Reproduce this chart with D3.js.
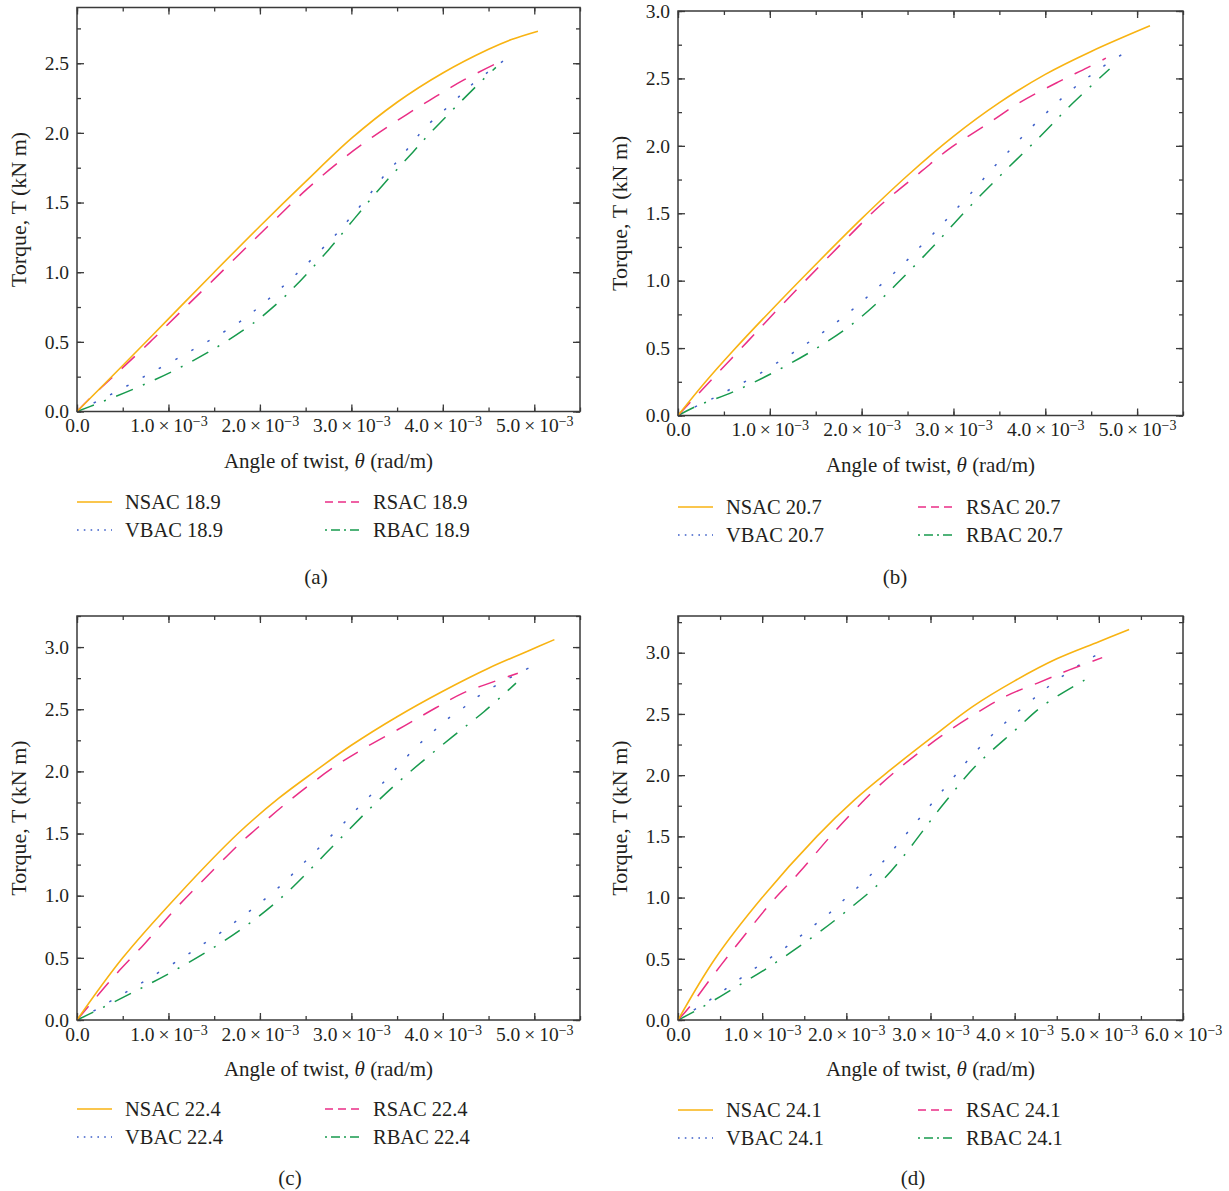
<!DOCTYPE html>
<html>
<head>
<meta charset="utf-8">
<script src="https://cdn.jsdelivr.net/npm/d3@7"></script>
<style>
  html, body { margin: 0; padding: 0; background: #fff; }
  svg { display: block; }
  text { font-family: "Liberation Serif", "DejaVu Serif", serif; fill: #231f20; }
</style>
</head>
<body>
<svg id="chart" width="1229" height="1191"></svg>
<script>
// ---------------- DATA (θ in 10⁻³ rad/m, T in kN m) ----------------
const seriesNames = ["NSAC", "RSAC", "VBAC", "RBAC"];
const strengths = ["18.9", "20.7", "22.4", "24.1"];
const panelLabels = ["(a)", "(b)", "(c)", "(d)"];
const xMax = [5.5, 5.5, 5.5, 6.0];
const yMax = [2.9, 3.0, 3.25, 3.3];
const xMajorTicks = [[0,1,2,3,4,5],[0,1,2,3,4,5],[0,1,2,3,4,5],[0,1,2,3,4,5,6]];
const yMajorTicks = [[0,0.5,1,1.5,2,2.5],[0,0.5,1,1.5,2,2.5,3],[0,0.5,1,1.5,2,2.5,3],[0,0.5,1,1.5,2,2.5,3]];
const xTitle = "Angle of twist, ";
const yTitle = "Torque, T (kN m)";

// (a) 18.9
const nsac189 = [[0,0],[0.5,0.33],[1.0,0.665],[1.5,1.0],[2.0,1.33],[2.5,1.65],[3.0,1.96],[3.5,2.22],[4.0,2.43],[4.5,2.60],[4.75,2.67],[5.04,2.73]];
const rsac189 = [[0,0],[0.15,0.1],[0.46,0.29],[0.8,0.5],[1.14,0.72],[1.5,0.95],[1.9,1.21],[2.2,1.40],[2.52,1.6],[2.9,1.81],[3.23,1.97],[3.6,2.13],[3.92,2.26],[4.23,2.38],[4.56,2.49]];
const vbac189 = [[0,0],[0.23,0.077],[0.42,0.139],[0.62,0.21],[0.83,0.285],[1.13,0.392],[1.35,0.474],[1.57,0.557],[1.79,0.648],[2.0,0.755],[2.21,0.873],[2.5,1.05],[2.83,1.27],[3.0,1.4],[3.19,1.55],[3.33,1.67],[3.52,1.81],[3.67,1.93],[3.81,2.04],[4.13,2.23],[4.27,2.32],[4.5,2.44],[4.69,2.53]];
const rbac189 = [[0,0],[0.21,0.053],[0.64,0.167],[1.08,0.30],[1.53,0.462],[1.87,0.608],[2.0,0.67],[2.29,0.837],[2.75,1.16],[3.04,1.39],[3.35,1.63],[3.67,1.86],[3.85,1.99],[4.13,2.18],[4.42,2.37],[4.58,2.47]];

// (b) 20.7
const nsac207 = [[0,0],[0.3,0.25],[0.6,0.48],[1.0,0.77],[1.5,1.12],[2.0,1.46],[2.5,1.78],[3.0,2.07],[3.5,2.32],[4.0,2.53],[4.5,2.70],[5.14,2.89]];
const rsac207 = [[0,0],[0.145,0.106],[0.435,0.316],[0.754,0.546],[1.02,0.74],[1.37,0.988],[1.87,1.336],[2.19,1.55],[2.65,1.81],[2.95,1.975],[3.41,2.18],[3.72,2.32],[4.13,2.47],[4.46,2.58],[4.66,2.65]];
const vbac207 = [[0,0],[0.236,0.081],[0.428,0.143],[0.616,0.212],[0.84,0.291],[1.116,0.407],[1.33,0.5],[1.543,0.6],[1.75,0.703],[1.964,0.822],[2.19,0.958],[2.41,1.093],[2.62,1.24],[2.82,1.376],[3.0,1.51],[3.22,1.67],[3.41,1.82],[3.63,1.98],[3.81,2.11],[4.02,2.25],[4.16,2.34],[4.35,2.45],[4.51,2.53],[4.70,2.62],[4.94,2.72]];
const rbac207 = [[0,0],[0.2,0.069],[0.616,0.18],[1.087,0.336],[1.533,0.509],[1.913,0.686],[2.246,0.884],[2.38,0.975],[2.76,1.24],[3.15,1.53],[3.57,1.82],[3.96,2.08],[4.29,2.31],[4.70,2.57]];

// (c) 22.4
const nsac224 = [[0,0],[0.5,0.5],[1.1,1.0],[1.76,1.5],[2.2,1.78],[2.6,2.0],[3.0,2.21],[3.5,2.44],[4.0,2.645],[4.5,2.83],[4.97,2.98],[5.22,3.06]];
const rsac224 = [[0,0],[0.117,0.102],[0.409,0.354],[0.737,0.612],[1.066,0.886],[1.412,1.149],[1.777,1.418],[1.949,1.53],[2.29,1.745],[2.80,2.03],[3.15,2.19],[3.59,2.37],[3.92,2.51],[4.22,2.63],[4.55,2.72],[4.82,2.79]];
const vbac224 = [[0,0],[0.234,0.094],[0.42,0.174],[0.628,0.263],[0.836,0.357],[1.157,0.502],[1.376,0.609],[1.595,0.716],[1.807,0.832],[2.03,0.958],[2.245,1.093],[2.46,1.25],[2.68,1.41],[2.90,1.57],[3.09,1.72],[3.31,1.88],[3.51,2.04],[3.70,2.19],[3.88,2.31],[4.05,2.42],[4.24,2.52],[4.36,2.59],[4.65,2.72],[4.99,2.85]];
const rbac224 = [[0,0],[0.19,0.067],[0.628,0.228],[1.077,0.403],[1.522,0.596],[1.912,0.792],[2.288,1.02],[2.80,1.40],[3.23,1.72],[3.6,1.97],[4.09,2.27],[4.45,2.48],[4.80,2.71]];

// (d) 24.1
const nsac241 = [[0,0],[0.44,0.5],[1.0,1.0],[1.65,1.5],[2.1,1.8],[2.5,2.03],[3.0,2.3],[3.5,2.56],[4.0,2.77],[4.5,2.95],[5.0,3.09],[5.36,3.19]];
const rsac241 = [[0,0],[0.139,0.109],[0.43,0.376],[0.737,0.646],[1.116,0.966],[1.434,1.2],[1.853,1.533],[2.19,1.78],[2.32,1.87],[2.67,2.08],[3.13,2.32],[3.53,2.5],[3.91,2.65],[4.30,2.76],[4.65,2.86],[5.04,2.96]];
const vbac241 = [[0,0],[0.239,0.104],[0.438,0.191],[0.649,0.295],[0.876,0.404],[1.108,0.513],[1.335,0.622],[1.562,0.744],[1.777,0.859],[2.0,1.0],[2.239,1.15],[2.458,1.31],[2.65,1.47],[2.86,1.64],[3.26,1.97],[3.48,2.15],[3.72,2.32],[3.94,2.46],[4.27,2.65],[4.49,2.77],[4.84,2.93],[5.11,3.03]];
const rbac241 = [[0,0],[0.207,0.074],[0.665,0.259],[1.104,0.444],[1.58,0.668],[1.98,0.878],[2.47,1.17],[3.15,1.76],[3.53,2.07],[4.01,2.37],[4.34,2.57],[4.89,2.80]];

const panelSeries = [
  [nsac189, rsac189, vbac189, rbac189],
  [nsac207, rsac207, vbac207, rbac207],
  [nsac224, rsac224, vbac224, rbac224],
  [nsac241, rsac241, vbac241, rbac241]
];

// ---------------- LAYOUT & STYLE ----------------
const layout = [
  {l: 77,  r: 580,  t: 7.5, b: 411.5, legY: 502,  legX: [77, 325], capX: 316, capY: 577},
  {l: 678, r: 1183, t: 11,  b: 415.5, legY: 507,  legX: [678, 918], capX: 895, capY: 577},
  {l: 77,  r: 580,  t: 616, b: 1020,  legY: 1109, legX: [77, 325], capX: 290, capY: 1178},
  {l: 678, r: 1183, t: 616, b: 1020,  legY: 1110, legX: [678, 918], capX: 913, capY: 1178}
];
const colors = {NSAC: "#f8b312", RSAC: "#ea2e86", VBAC: "#3d5fc9", RBAC: "#179a4d"};
const plotDash = {NSAC: null, RSAC: "18,13", VBAC: "2.5,16", RBAC: "18,11,2,11"};
const legDash = {NSAC: null, RSAC: "8,5", VBAC: "1.6,5.2", RBAC: "2,4,9,4"};
const legendPos = {NSAC: [0,0], VBAC: [0,1], RSAC: [1,0], RBAC: [1,1]};
const tickFont = 19.5, titleFont = 21, yTitleFont = 22, legendFont = 20.5, capFont = 21;

const svg = d3.select("#chart");
const axisColor = "#3a3a3a";

layout.forEach((L, i) => {
  const g = svg.append("g");
  const x = d3.scaleLinear().domain([0, xMax[i]]).range([L.l, L.r]);
  const y = d3.scaleLinear().domain([0, yMax[i]]).range([L.b, L.t]);

  const xMinor = d3.range(0, xMax[i] + 1e-9, 0.5);
  const yMinor = d3.range(0, yMax[i] + 1e-9, 0.25);

  const addAxis = (axis, transform) => {
    const a = g.append("g").attr("transform", transform).call(axis);
    a.select(".domain").remove();
    a.selectAll(".tick line").attr("stroke", axisColor).attr("stroke-width", 1.3);
    return a;
  };
  addAxis(d3.axisBottom(x).tickValues(xMinor).tickSize(-4).tickFormat(""), `translate(0,${L.b})`);
  addAxis(d3.axisTop(x).tickValues(xMinor).tickSize(-4).tickFormat(""), `translate(0,${L.t})`);
  addAxis(d3.axisLeft(y).tickValues(yMinor).tickSize(-4).tickFormat(""), `translate(${L.l},0)`);
  addAxis(d3.axisRight(y).tickValues(yMinor).tickSize(-4).tickFormat(""), `translate(${L.r},0)`);

  const xa = addAxis(d3.axisBottom(x).tickValues(xMajorTicks[i]).tickSize(-7).tickPadding(7), `translate(0,${L.b})`);
  addAxis(d3.axisTop(x).tickValues(xMajorTicks[i]).tickSize(-7).tickFormat(""), `translate(0,${L.t})`);
  const ya = addAxis(d3.axisLeft(y).tickValues(yMajorTicks[i]).tickSize(-7).tickPadding(8).tickFormat(d3.format(".1f")), `translate(${L.l},0)`);
  addAxis(d3.axisRight(y).tickValues(yMajorTicks[i]).tickSize(-7).tickFormat(""), `translate(${L.r},0)`);

  ya.selectAll(".tick text").attr("font-size", tickFont).attr("font-family", "Liberation Serif").attr("fill", "#231f20");
  xa.selectAll(".tick text").attr("font-size", tickFont).attr("font-family", "Liberation Serif").attr("fill", "#231f20")
    .each(function(d) {
      const t = d3.select(this);
      t.text(null);
      if (d === 0) { t.text("0.0"); return; }
      t.append("tspan").text(d3.format(".1f")(d) + "\u2009×\u200910");
      t.append("tspan").attr("dy", "-0.42em").attr("font-size", "0.72em").text("\u22123");
    });

  const line = d3.line().x(p => x(p[0])).y(p => y(p[1])).curve(d3.curveCatmullRom.alpha(0.5));
  const order = ["NSAC", "RSAC", "VBAC", "RBAC"];
  [3, 2, 1, 0].forEach(k => {
    const name = order[k];
    g.append("path")
      .datum(panelSeries[i][k])
      .attr("d", line)
      .attr("fill", "none")
      .attr("stroke", colors[name])
      .attr("stroke-width", name === "NSAC" ? 1.6 : 1.5)
      .attr("stroke-dasharray", plotDash[name]);
  });

  g.append("rect").attr("x", L.l).attr("y", L.t).attr("width", L.r - L.l).attr("height", L.b - L.t)
    .attr("fill", "none").attr("stroke", axisColor).attr("stroke-width", 1.5);

  const xt = g.append("text").attr("x", (L.l + L.r) / 2).attr("y", L.b + 56)
    .attr("text-anchor", "middle").attr("font-size", titleFont);
  xt.append("tspan").text(xTitle);
  xt.append("tspan").attr("font-style", "italic").text("θ");
  xt.append("tspan").text(" (rad/m)");

  g.append("text")
    .attr("transform", `translate(${L.l - 51},${(L.t + L.b) / 2}) rotate(-90)`)
    .attr("text-anchor", "middle").attr("font-size", yTitleFont)
    .text(yTitle);

  seriesNames.forEach((name) => {
    const [col, row] = legendPos[name];
    const lx = L.legX[col];
    const ly = L.legY + row * 28;
    g.append("line").attr("x1", lx).attr("x2", lx + 35).attr("y1", ly).attr("y2", ly)
      .attr("stroke", colors[name]).attr("stroke-width", 1.5)
      .attr("stroke-dasharray", legDash[name]);
    g.append("text").attr("x", lx + 48).attr("y", ly).attr("dy", "0.35em")
      .attr("font-size", legendFont).text(name + " " + strengths[i]);
  });

  g.append("text").attr("x", L.capX).attr("y", L.capY).attr("dy", "0.35em")
    .attr("text-anchor", "middle").attr("font-size", capFont).text(panelLabels[i]);
});
</script>
</body>
</html>
